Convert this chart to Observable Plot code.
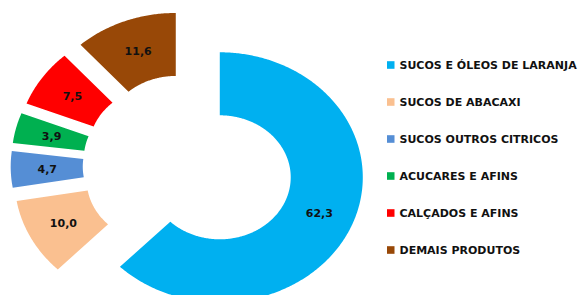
<!DOCTYPE html>
<html>
<head>
<meta charset="utf-8">
<script src="https://cdn.jsdelivr.net/npm/d3@7"></script>
<script src="https://cdn.jsdelivr.net/npm/@observablehq/plot@0.6"></script>
<style>
  html, body { margin: 0; padding: 0; background: #fff; }
  #chart { width: 581px; height: 295px; overflow: hidden; }
</style>
</head>
<body>
<div id="chart"></div>
<script>
// ---- data ----
const categories = [
  "SUCOS E ÓLEOS DE LARANJA",
  "SUCOS DE ABACAXI",
  "SUCOS OUTROS CITRICOS",
  "ACUCARES E AFINS",
  "CALÇADOS E AFINS",
  "DEMAIS PRODUTOS"
];
const values = [62.3, 10.0, 4.7, 3.9, 7.5, 11.6];
const colors = ["#00B0F0", "#FAC090", "#558ED5", "#00B050", "#FF0000", "#984807"];

// ---- layout (pixels) ----
const W = 581, H = 295;
const cx = 188, cy = 166;      // pie centre
const sx = 1.144;              // horizontal stretch of the original picture
const rOut = 125, rIn = 62;    // radii (vertical units)
const explode = 30;            // explosion distance
const rLabel = (rOut + rIn) / 2;

const total = d3.sum(values);
let acc = 0;
const slices = values.map((v, i) => {
  const a0 = acc / total * 2 * Math.PI;
  acc += v;
  const a1 = acc / total * 2 * Math.PI;
  const m = (a0 + a1) / 2;
  const ox = cx + sx * explode * Math.sin(m);
  const oy = cy - explode * Math.cos(m);
  return {i, v, name: categories[i], color: colors[i], a0, a1, m, ox, oy};
});

// ring-sector outline points: outer arc (x2,y2) and inner arc (x1,y1)
const arcPts = [];
for (const s of slices) {
  const n = Math.max(8, Math.ceil((s.a1 - s.a0) / 0.01));
  for (let k = 0; k <= n; k++) {
    const t = s.a0 + (s.a1 - s.a0) * k / n;
    arcPts.push({
      name: s.name,
      x1: s.ox + sx * rIn * Math.sin(t), y1: s.oy - rIn * Math.cos(t),
      x2: s.ox + sx * rOut * Math.sin(t), y2: s.oy - rOut * Math.cos(t)
    });
  }
}

const labels = slices.map(s => ({
  x: s.ox + sx * rLabel * Math.sin(s.m),
  y: s.oy - rLabel * Math.cos(s.m),
  text: s.v.toFixed(1).replace(".", ",")
}));

const legendX = 387, legendY0 = 65, legendStep = 37;
const legend = categories.map((c, i) => ({
  name: c, color: colors[i],
  y: legendY0 + i * legendStep
}));

const chart = Plot.plot({
  width: W, height: H,
  margin: 0,
  x: {domain: [0, W], range: [0, W], axis: null},
  y: {domain: [0, H], range: [0, H], axis: null},
  color: {domain: categories, range: colors},
  style: {background: "#fff"},
  marks: [
    Plot.area(arcPts, {x1: "x1", y1: "y1", x2: "x2", y2: "y2", z: "name", fill: "name", curve: "linear"}),
    Plot.text(labels, {x: "x", y: "y", text: "text", fill: "#111", fontSize: 11, fontWeight: "bold", fontFamily: "DejaVu Sans"}),
    Plot.rect(legend, {x1: legendX, x2: legendX + 7.5, y1: d => d.y - 3.8, y2: d => d.y + 3.8, fill: "name"}),
    Plot.text(legend, {x: legendX + 12, y: "y", text: "name", textAnchor: "start", fill: "#111", fontSize: 11, fontWeight: "bold", fontFamily: "DejaVu Sans"})
  ]
});
document.getElementById("chart").appendChild(chart);
</script>
</body>
</html>
